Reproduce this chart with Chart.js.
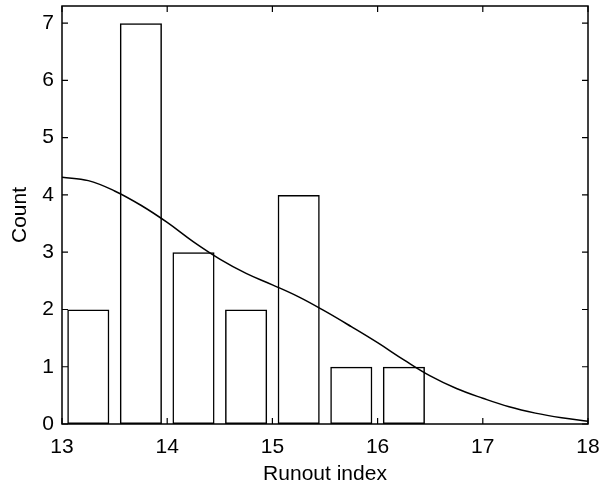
<!DOCTYPE html>
<html>
<head>
<meta charset="utf-8">
<script src="https://cdn.jsdelivr.net/npm/chart.js@4.4.1/dist/chart.umd.min.js"></script>
<style>
    html, body { margin: 0; padding: 0; background: #fff; }
    #wrap { width: 599px; height: 488px; }
</style>
</head>
<body>
<div id="wrap"><canvas id="histChart"></canvas></div>
<script>
// Histogram bins (centres) and counts
const binCentres = [13.25, 13.75, 14.25, 14.75, 15.25, 15.75, 16.25];
const binCounts = [2, 7, 3, 2, 4, 1, 1];

// Smooth density curve
const curveX = [13.0, 13.25, 13.5, 13.75, 14.0, 14.25, 14.5, 14.75, 15.0, 15.25, 15.5,
                15.75, 16.0, 16.25, 16.5, 16.75, 17.0, 17.25, 17.5, 17.75, 18.0];
const curveY = [4.31, 4.25, 4.07, 3.82, 3.52, 3.18, 2.88, 2.63, 2.43, 2.22, 1.97,
                1.70, 1.42, 1.12, 0.84, 0.62, 0.45, 0.30, 0.19, 0.11, 0.05];

const xTicks = [13, 14, 15, 16, 17, 18];
const yTicks = [0, 1, 2, 3, 4, 5, 6, 7];

// frame + inward tick marks on all four sides
const framePlugin = {
    id: 'frame',
    afterDatasetsDraw(chart) {
        const { ctx, chartArea: a, scales } = chart;
        ctx.save();
        ctx.strokeStyle = '#000';
        ctx.lineWidth = 1.5;
        ctx.strokeRect(a.left, a.top, a.right - a.left, a.bottom - a.top);
        ctx.lineWidth = 1.2;
        ctx.beginPath();
        xTicks.forEach(v => {
            const px = scales.x.getPixelForValue(v);
            ctx.moveTo(px, a.bottom); ctx.lineTo(px, a.bottom - 6);
            ctx.moveTo(px, a.top); ctx.lineTo(px, a.top + 6);
        });
        yTicks.forEach(v => {
            const py = scales.y.getPixelForValue(v);
            ctx.moveTo(a.left, py); ctx.lineTo(a.left + 6, py);
            ctx.moveTo(a.right, py); ctx.lineTo(a.right - 6, py);
        });
        ctx.stroke();
        ctx.restore();
    }
};

const font = { family: 'Liberation Sans, Arial, sans-serif', size: 21 };

new Chart(document.getElementById('histChart'), {
    data: {
        datasets: [
            {
                type: 'bar',
                data: binCentres.map((x, i) => ({ x: x, y: binCounts[i] })),
                backgroundColor: 'rgba(255,255,255,0)',
                borderColor: '#000',
                borderWidth: 1.5,
                borderSkipped: false,
                barPercentage: 0.8,
                categoryPercentage: 1.0
            },
            {
                type: 'line',
                data: curveX.map((x, i) => ({ x: x, y: curveY[i] })),
                borderColor: '#000',
                borderWidth: 1.5,
                pointRadius: 0,
                tension: 0.4,
                fill: false
            }
        ]
    },
    options: {
        responsive: true,
        maintainAspectRatio: false,
        animation: false,
        layout: { padding: { top: 6, right: 11, left: 0, bottom: 0 } },
        plugins: {
            legend: { display: false },
            tooltip: { enabled: false }
        },
        scales: {
            x: {
                type: 'linear',
                min: 13,
                max: 18,
                offset: false,
                grid: { display: false },
                border: { display: false },
                ticks: {
                    stepSize: 1,
                    color: '#000',
                    font: font,
                    padding: 3,
                    maxRotation: 0
                },
                title: {
                    display: true,
                    text: 'Runout index',
                    color: '#000',
                    font: font,
                    padding: { top: 0, bottom: 1 }
                },
                afterFit(scale) {
                    scale.height = 64;
                    scale.paddingLeft = 0;
                    scale.paddingRight = 0;
                }
            },
            y: {
                min: 0,
                max: 7.3,
                grid: { display: false, drawTicks: false, tickLength: 0 },
                border: { display: false },
                afterBuildTicks(scale) {
                    scale.ticks = yTicks.map(v => ({ value: v }));
                },
                ticks: {
                    color: '#000',
                    font: font,
                    padding: 8
                },
                title: {
                    display: true,
                    text: 'Count',
                    color: '#000',
                    font: font,
                    padding: { top: 8, bottom: 0 }
                },
                afterFit(scale) {
                    scale.width = 62;
                    scale.paddingTop = 0;
                    scale.paddingBottom = 0;
                }
            }
        }
    },
    plugins: [framePlugin]
});
</script>
</body>
</html>
